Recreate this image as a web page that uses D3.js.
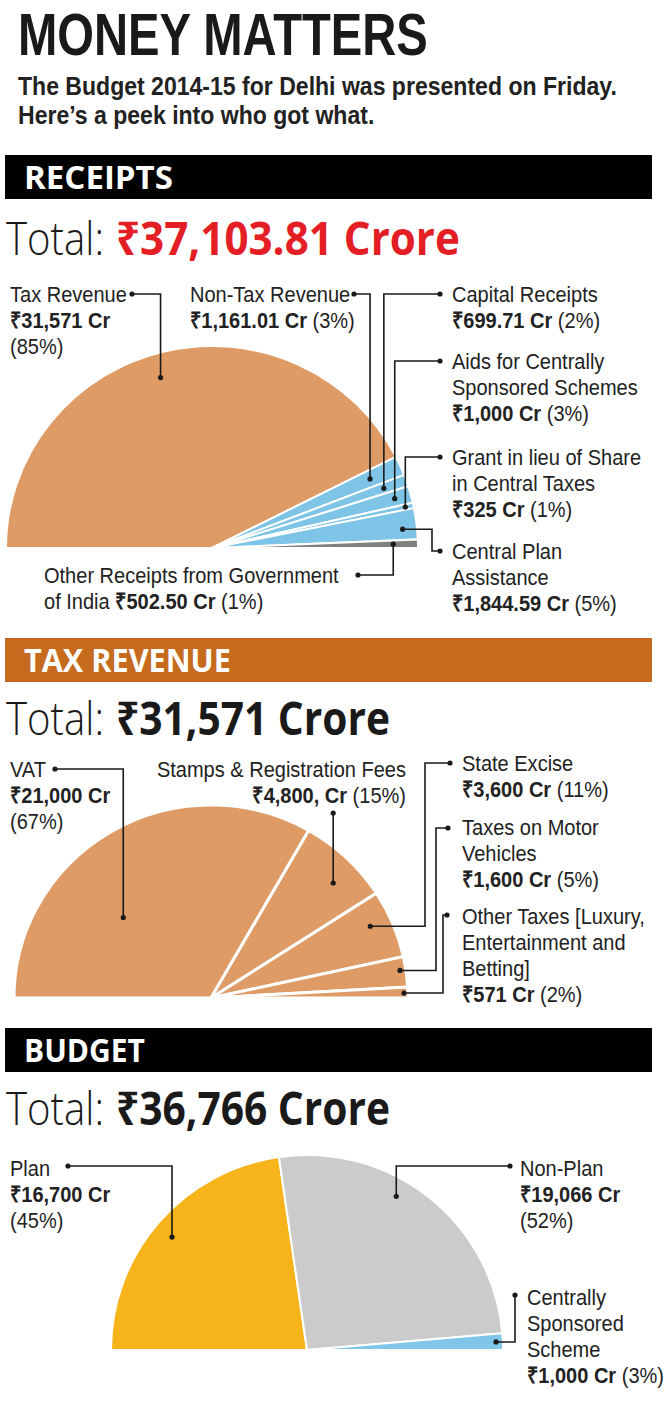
<!DOCTYPE html>
<html>
<head>
<meta charset="utf-8">
<script src="https://cdn.jsdelivr.net/npm/d3@7"></script>
<style>
  body { margin: 0; background: #fff; }
  text { font-family: "Open Sans", "Noto Sans", "DejaVu Sans", sans-serif; }
  .lbl { font-family: "Liberation Sans", Arial, sans-serif; }
</style>
</head>
<body>
<svg id="chart"></svg>
<script>
// ---- data ----
var receiptNames = ["Tax Revenue", "Non-Tax Revenue", "Capital Receipts",
  "Aids for Centrally\nSponsored Schemes", "Grant in lieu of Share\nin Central Taxes",
  "Central Plan\nAssistance", "Other Receipts from Government\nof India"];
var receiptValues = [31571, 1161.01, 699.71, 1000, 325, 1844.59, 502.50];
var receiptAmounts = ["₹31,571 Cr", "₹1,161.01 Cr", "₹699.71 Cr", "₹1,000 Cr", "₹325 Cr", "₹1,844.59 Cr", "₹502.50 Cr"];
var receiptPct = [85, 3, 2, 3, 1, 5, 1];

var taxNames = ["VAT", "Stamps & Registration Fees", "State Excise", "Taxes on Motor\nVehicles",
  "Other Taxes [Luxury,\nEntertainment and\nBetting]"];
var taxValues = [21000, 4800, 3600, 1600, 571];
var taxAmounts = ["₹21,000 Cr", "₹4,800, Cr", "₹3,600 Cr", "₹1,600 Cr", "₹571 Cr"];
var taxPct = [67, 15, 11, 5, 2];

var budgetNames = ["Plan", "Non-Plan", "Centrally\nSponsored\nScheme"];
var budgetValues = [16700, 19066, 1000];
var budgetAmounts = ["₹16,700 Cr", "₹19,066 Cr", "₹1,000 Cr"];
var budgetPct = [45, 52, 3];

var totals = ["₹37,103.81  Crore", "₹31,571 Crore", "₹36,766 Crore"];

// ---- styles ----
var ORANGE = "#de9b66", BLUE = "#7dc4e6";
var receiptColors = [ORANGE, BLUE, BLUE, BLUE, BLUE, BLUE, "#808080"];
var taxColors = [ORANGE, ORANGE, ORANGE, ORANGE, ORANGE];
var budgetColors = ["#f6b41a", "#cbcbcb", "#80c6e8"];

var W = 665, H = 1406;
var LS = 0.89;   // horizontal squeeze of label text
var LH = 26;     // label line height

var svg = d3.select("#chart").attr("width", W).attr("height", H);

// one <text> per label block, a line is a list of [string, weight] parts
function labelBlock(x, y, anchor, lines) {
  var t = svg.append("text")
    .attr("class", "lbl")
    .attr("transform", "translate(" + x + "," + y + ") scale(" + LS + ",1)")
    .attr("text-anchor", anchor)
    .attr("font-size", 22.5)
    .attr("fill", "#222");
  lines.forEach(function (parts, j) {
    parts.forEach(function (p, k) {
      var s = t.append("tspan").attr("font-weight", p[1]).text(p[0]);
      if (k === 0) s.attr("x", 0).attr("dy", j === 0 ? 0 : LH);
    });
  });
}

// squeeze a text horizontally so that its first line spans len pixels
function fitText(x, y, lines, size, weight, len, fill, cls, lh) {
  var t = svg.append("text")
    .attr("font-size", size)
    .attr("font-weight", weight)
    .attr("fill", fill);
  if (cls) t.attr("class", cls);
  var first = null;
  lines.forEach(function (s, j) {
    var sp = t.append("tspan").attr("x", 0).attr("dy", j === 0 ? 0 : lh).text(s);
    if (j === 0) first = sp;
  });
  var w = first.node().getComputedTextLength() || len;
  t.attr("transform", "translate(" + x + "," + y + ") scale(" + (len / w) + ",1)");
}

// ---- heading ----
fitText(18, 55, ["MONEY MATTERS"], 59, 700, 410, "#1a1a1a", "lbl");
fitText(18, 95, ["The Budget 2014-15 for Delhi was presented on Friday.", "Here\u2019s a peek into who got what."],
  25.5, 700, 599, "#222", "lbl", 29);

function header(y, title, len, color) {
  svg.append("rect").attr("x", 5).attr("y", y).attr("width", 647).attr("height", 44).attr("fill", color);
  fitText(24, y + 34, [title], 33, 700, len, "#fff");
}

function totalLine(y, amount, len, color) {
  fitText(6, y, ["Total:"], 46, 300, 98, "#1a1a1a");
  fitText(116, y, [amount], 46, 700, len, color);
}

function halfPie(cfg) {
  var pie = d3.pie().sort(null).startAngle(-Math.PI / 2).endAngle(Math.PI / 2);
  var arcs = pie(cfg.values);
  var arc = d3.arc().innerRadius(0).outerRadius(cfg.rx);

  svg.append("g")
    .attr("transform", "translate(" + cfg.cx + "," + cfg.cy + ") scale(1," + (cfg.ry / cfg.rx) + ")")
    .selectAll("path")
    .data(arcs)
    .enter()
    .append("path")
    .attr("d", arc)
    .attr("fill", function (d, i) { return cfg.colors[i]; })
    .attr("stroke", "#fff")
    .attr("stroke-width", cfg.sep)
    .attr("vector-effect", "non-scaling-stroke");

  var line = d3.line();
  arcs.forEach(function (d, i) {
    var L = cfg.layout[i];
    var a = d.startAngle + L.t * (d.endAngle - d.startAngle);
    var ax = cfg.cx + Math.sin(a) * L.k * cfg.rx;
    var ay = cfg.cy - Math.cos(a) * L.k * cfg.ry;
    var lx = L.lx == null ? ax : L.lx;
    var pts = L.ex == null
      ? [[ax, ay], [ax, L.ly], [lx, L.ly]]
      : [[ax, ay], [L.ex, ay], [L.ex, L.ly], [lx, L.ly]];
    svg.append("path").attr("d", line(pts))
      .attr("fill", "none").attr("stroke", "#1a1a1a").attr("stroke-width", 1.6);
    [[ax, ay], [lx, L.ly]].forEach(function (p) {
      svg.append("circle").attr("cx", p[0]).attr("cy", p[1]).attr("r", 2.6).attr("fill", "#1a1a1a");
    });

    // label text
    var lines = cfg.names[i].split("\n").map(function (s) { return [[s, 400]]; });
    var amt = [cfg.amounts[i], 700], pct = [" (" + cfg.pct[i] + "%)", 400];
    if (L.mode === "split") {
      lines.push([amt]);
      lines.push([["(" + cfg.pct[i] + "%)", 400]]);
    } else if (L.mode === "inline") {
      var last = lines[lines.length - 1];
      last[0][0] += " ";
      last.push(amt, pct);
    } else {
      lines.push([amt, pct]);
    }
    labelBlock(L.x, L.y, L.anchor || "start", lines);
  });
}

// ---- RECEIPTS ----
header(155, "RECEIPTS", 149, "#000");
totalLine(255, totals[0], 344, "#e31e25");
halfPie({
  values: receiptValues, names: receiptNames, amounts: receiptAmounts, pct: receiptPct,
  colors: receiptColors, cx: 212, cy: 548, rx: 206, ry: 202, sep: 2,
  layout: [
    { x: 10, y: 302, mode: "split", t: 0.48, k: 0.88, ly: 294, lx: 132 },
    { x: 190, y: 302, mode: "same", t: 0.5, k: 0.84, ly: 294, lx: 354 },
    { x: 452, y: 302, mode: "same", t: 0.5, k: 0.885, ly: 294, lx: 440 },
    { x: 452, y: 369, mode: "same", t: 0.5, k: 0.92, ly: 361, lx: 440 },
    { x: 452, y: 465, mode: "same", t: 0.5, k: 0.96, ly: 457, lx: 440 },
    { x: 452, y: 559, mode: "same", t: 0.63, k: 0.93, ex: 432, ly: 551, lx: 440 },
    { x: 44, y: 583, mode: "inline", t: 0.5, k: 0.88, ly: 575, lx: 358 }
  ]
});

// ---- TAX REVENUE ----
header(638, "TAX REVENUE", 207, "#c66a1e");
totalLine(735, totals[1], 274, "#1a1a1a");
halfPie({
  values: taxValues, names: taxNames, amounts: taxAmounts, pct: taxPct,
  colors: taxColors, cx: 211, cy: 998, rx: 197, ry: 193, sep: 3,
  layout: [
    { x: 10, y: 777, mode: "split", t: 0.36, k: 0.61, ly: 769, lx: 55 },
    { x: 406, y: 777, anchor: "end", mode: "same", t: 0.6, k: 0.86, ly: 813, lx: null },
    { x: 462, y: 771, mode: "same", t: 0.4, k: 0.89, ex: 425, ly: 763, lx: 450 },
    { x: 462, y: 835, mode: "same", t: 0.43, k: 0.97, ex: 436, ly: 828, lx: 448 },
    { x: 462, y: 924, mode: "same", t: 0.54, k: 0.98, ex: 443, ly: 915, lx: 447 }
  ]
});

// ---- BUDGET ----
header(1028, "BUDGET", 121, "#000");
totalLine(1125, totals[2], 274, "#1a1a1a");
halfPie({
  values: budgetValues, names: budgetNames, amounts: budgetAmounts, pct: budgetPct,
  colors: budgetColors, cx: 307, cy: 1350, rx: 196, ry: 195, sep: 2,
  layout: [
    { x: 10, y: 1176, mode: "split", t: 0.49, k: 0.9, ly: 1166, lx: 68 },
    { x: 520, y: 1176, mode: "split", t: 0.41, k: 0.91, ly: 1166, lx: 510 },
    { x: 527, y: 1305, mode: "same", t: 0.5, k: 0.965, ex: 515, ly: 1295, lx: 515 }
  ]
});
</script>
</body>
</html>
